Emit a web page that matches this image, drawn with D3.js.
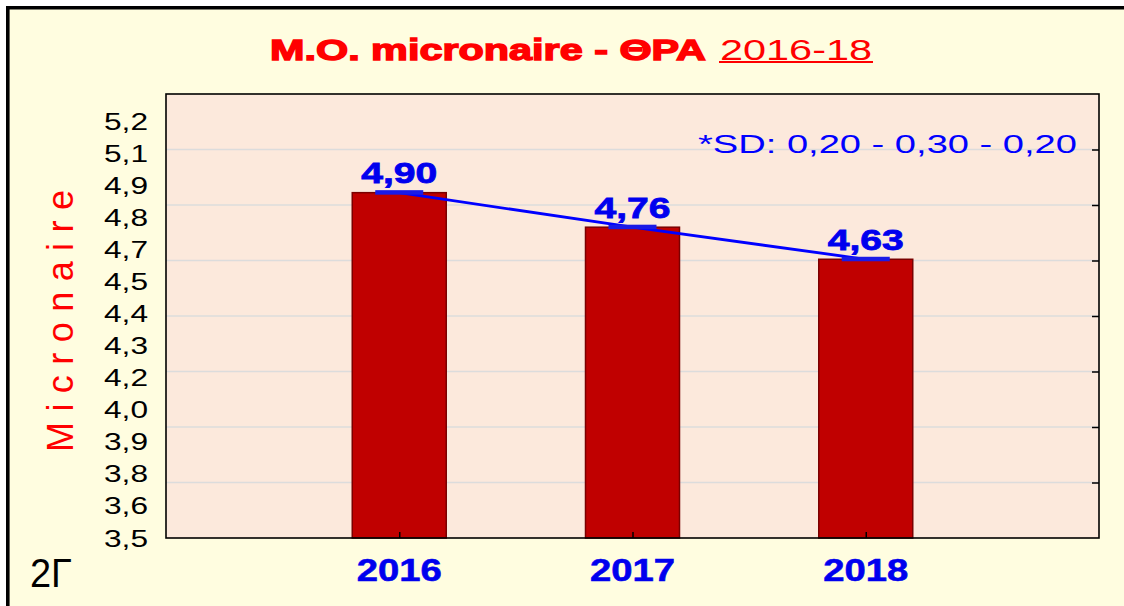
<!DOCTYPE html>
<html>
	<head>
		<title>Micronaire</title>
		<style>
			body { margin: 0; background: #ffffff; }
		</style>
	</head>
	<body>
		<div id="wrapper"></div>
		<script src="https://d3js.org/d3.v7.min.js"></script>
		<script>
	// data
	var years = ["2016", "2017", "2018"];
	var means = [4.90, 4.76, 4.63];
	var meanLabels = ["4,90", "4,76", "4,63"];
	var yLabels = ["3,5", "3,6", "3,8", "3,9", "4,0", "4,2", "4,3", "4,4", "4,5", "4,7", "4,8", "4,9", "5,1", "5,2"];
	var yMin = 3.5;
	var yMax = 5.3;
	var yLabelTop = 5.19;
	var gridCount = 8;
	var sdNote = "*SD: 0,20 - 0,30 - 0,20";

	var w = 1124;
	var h = 606;
	var font = "'Liberation Sans', Arial, sans-serif";

	var svg = d3.select("#wrapper")
				.append("svg")
				.attr("width", w)
				.attr("height", h);

	// outer background and frame
	svg.append("rect")
		.attr("x", 8).attr("y", 8)
		.attr("width", w - 8).attr("height", h - 8)
		.style("fill", "#fffde0");
	svg.append("line")
		.attr("x1", 6).attr("x2", w).attr("y1", 7.8).attr("y2", 7.8)
		.style("stroke", "#000").style("stroke-width", 3.6);
	svg.append("line")
		.attr("x1", 7.8).attr("x2", 7.8).attr("y1", 6).attr("y2", h)
		.style("stroke", "#000").style("stroke-width", 3.6);

	// plot area
	var pLeft = 166, pRight = 1099, pTop = 94, pBottom = 538;
	var x = d3.scalePoint().domain(years).range([pLeft, pRight]).padding(1);
	var y = d3.scaleLinear().domain([yMin, yMax]).range([pBottom, pTop]);
	var yl = d3.scalePoint().domain(yLabels).range([y(yMin), y(yLabelTop)]);

	svg.append("rect")
		.attr("x", pLeft).attr("y", pTop)
		.attr("width", pRight - pLeft).attr("height", pBottom - pTop)
		.style("fill", "#fce9dc");

	// gridlines
	var grid = d3.range(1, gridCount).map(function(i) {
		return yMin + i * (yMax - yMin) / gridCount;
	});
	svg.selectAll(".grid")
		.data(grid)
		.enter()
		.append("line")
		.attr("x1", pLeft).attr("x2", pRight)
		.attr("y1", function(d) { return y(d); })
		.attr("y2", function(d) { return y(d); })
		.style("stroke", "#dcdcdc")
		.style("stroke-width", 1.5);

	// right ticks
	svg.append("g")
		.attr("transform", "translate(" + pRight + ",0)")
		.call(d3.axisLeft(y).tickValues(grid).tickSize(7).tickFormat(""))
		.call(function(g) { g.select(".domain").remove(); })
		.selectAll("line").style("stroke", "#000").style("stroke-width", 1.5);

	// bars
	var barW = 94;
	svg.selectAll(".bar")
		.data(means)
		.enter()
		.append("rect")
		.attr("x", function(d, i) { return x(years[i]) - barW / 2; })
		.attr("y", function(d) { return y(d); })
		.attr("width", barW)
		.attr("height", function(d) { return y(yMin) - y(d); })
		.style("fill", "#c00000")
		.style("stroke", "#7a0000")
		.style("stroke-width", 1.5);

	// bottom ticks
	svg.append("g")
		.attr("transform", "translate(0," + pBottom + ")")
		.call(d3.axisTop(x).tickSize(6).tickFormat(""))
		.call(function(g) { g.select(".domain").remove(); })
		.selectAll("line").style("stroke", "#000").style("stroke-width", 1.5);

	// frame
	svg.append("rect")
		.attr("x", pLeft).attr("y", pTop)
		.attr("width", pRight - pLeft).attr("height", pBottom - pTop)
		.style("fill", "none")
		.style("stroke", "#000")
		.style("stroke-width", 1.6);

	// mean line and caps
	var line = d3.line()
		.x(function(d, i) { return x(years[i]); })
		.y(function(d) { return y(d); });
	svg.append("path")
		.datum(means)
		.attr("d", line)
		.style("fill", "none")
		.style("stroke", "#0000ff")
		.style("stroke-width", 2.8);
	svg.selectAll(".cap")
		.data(means)
		.enter()
		.append("rect")
		.attr("x", function(d, i) { return x(years[i]) - 24; })
		.attr("y", function(d) { return y(d) - 2.5; })
		.attr("width", 48)
		.attr("height", 4.5)
		.style("fill", "#1a1ae6");

	// mean labels
	svg.selectAll(".mlabel")
		.data(means)
		.enter()
		.append("text")
		.attr("x", function(d, i) { return x(years[i]); })
		.attr("y", function(d) { return y(d) - 9.5; })
		.attr("text-anchor", "middle")
		.attr("textLength", 76)
		.attr("lengthAdjust", "spacingAndGlyphs")
		.style("font-family", font)
		.style("font-weight", "bold")
		.style("font-size", "30px")
		.style("fill", "#0000ee")
		.style("stroke", "#0000ee")
		.style("stroke-width", 0.8)
		.text(function(d, i) { return meanLabels[i]; });

	// SD note
	svg.append("text")
		.attr("x", 698).attr("y", 153)
		.attr("textLength", 379)
		.attr("lengthAdjust", "spacingAndGlyphs")
		.style("font-family", font)
		.style("font-size", "26px")
		.style("fill", "#0000ff")
		.text(sdNote);

	// y labels
	svg.selectAll(".ylabel")
		.data(yLabels)
		.enter()
		.append("text")
		.attr("x", 104)
		.attr("y", function(d) { return yl(d) + 8.5; })
		.attr("textLength", 44)
		.attr("lengthAdjust", "spacingAndGlyphs")
		.style("font-family", font)
		.style("font-size", "24px")
		.style("fill", "#000")
		.text(function(d) { return d; });

	// x labels
	svg.selectAll(".xlabel")
		.data(years)
		.enter()
		.append("text")
		.attr("x", function(d) { return x(d); })
		.attr("y", 581)
		.attr("text-anchor", "middle")
		.attr("textLength", 85)
		.attr("lengthAdjust", "spacingAndGlyphs")
		.style("font-family", font)
		.style("font-weight", "bold")
		.style("font-size", "32px")
		.style("fill", "#0000ee")
		.style("stroke", "#0000ee")
		.style("stroke-width", 0.6)
		.text(function(d) { return d; });

	// axis title
	svg.append("text")
		.attr("transform", "translate(73,452) rotate(-90)")
		.attr("textLength", 262)
		.attr("lengthAdjust", "spacing")
		.style("font-family", font)
		.style("font-size", "36px")
		.style("fill", "#ff0000")
		.text("Micronaire");

	// title
	svg.append("text")
		.attr("x", 270).attr("y", 60)
		.attr("textLength", 436)
		.attr("lengthAdjust", "spacingAndGlyphs")
		.style("font-family", font)
		.style("font-weight", "bold")
		.style("font-size", "30px")
		.style("fill", "#ff0000")
		.style("stroke", "#ff0000")
		.style("stroke-width", 1.4)
		.text("M.O. micronaire - ΘΡΑ");
	svg.append("text")
		.attr("x", 720).attr("y", 60)
		.attr("textLength", 152)
		.attr("lengthAdjust", "spacingAndGlyphs")
		.style("font-family", font)
		.style("font-size", "29px")
		.style("fill", "#ff0000")
		.text("2016-18");
	svg.append("line")
		.attr("x1", 719).attr("x2", 873).attr("y1", 62).attr("y2", 62)
		.style("stroke", "#ff0000").style("stroke-width", 2);

	// corner tag
	svg.append("text")
		.attr("x", 30).attr("y", 587)
		.attr("textLength", 42)
		.attr("lengthAdjust", "spacingAndGlyphs")
		.style("font-family", font)
		.style("font-size", "40px")
		.style("fill", "#000")
		.text("2Γ");
		</script>
	</body>
</html>
